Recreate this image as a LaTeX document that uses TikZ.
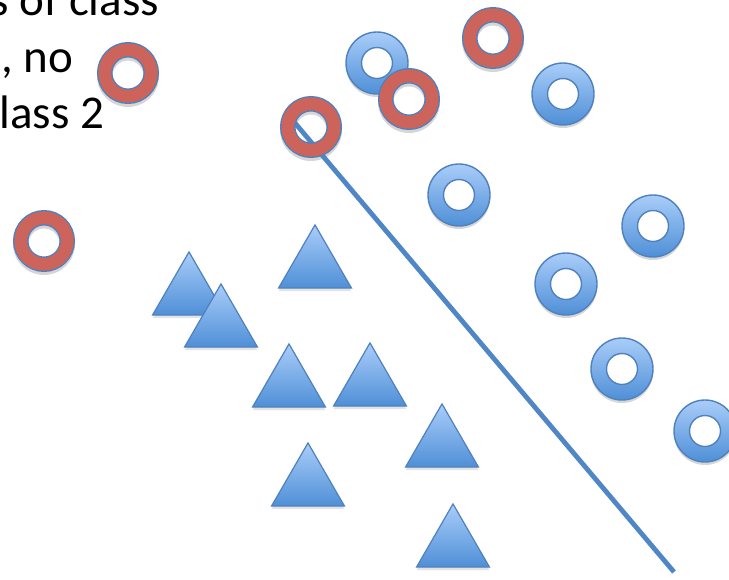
\documentclass[tikz,border=0pt]{standalone}
\usepackage{fontspec}
\setmainfont{Carlito}
\usetikzlibrary{shapes.geometric,shadows}
\definecolor{edgeblue}{HTML}{4F81BD}
\definecolor{lineblue}{HTML}{4F86C6}
\definecolor{ringred}{HTML}{CC645C}
\definecolor{topblue}{HTML}{A9CDF9}
\definecolor{botblue}{HTML}{4F8FD7}

\begin{document}
\begin{tikzpicture}[x=0.5pt,y=-0.5pt,
  every node/.style={inner sep=0pt,outer sep=0pt},
  Bnode/.style={circle,minimum size=31pt,top color=topblue,bottom color=botblue,
    draw=edgeblue,line width=0.7pt,
    path picture={\draw[edgeblue,line width=0.7pt,fill=white]
      (path picture bounding box.center) circle (7.75pt);}},
  Rnode/.style={circle,minimum size=23.25pt,draw=edgeblue,line width=0.7pt,
    double=ringred,double distance=6.35pt},
  Tnode/.style={regular polygon,regular polygon sides=3,minimum size=42.1pt,
    top color=topblue,bottom color=botblue,draw=edgeblue,line width=0.6pt,
    drop shadow={opacity=.22,shadow xshift=0pt,shadow yshift=-1.5pt}},
  txt/.style={font=\fontsize{23.5pt}{28pt}\selectfont,anchor=base east},
  sepline/.style={lineblue,line width=2.4pt}
]
\useasboundingbox (0,0) rectangle (729,579);
\clip (0,0) rectangle (729,579);

% soft shadows of the rings
\foreach \x/\y in {377/63,563/94,459/195,653/226,566/284,622/369,705/431,
                   128/73,44/241,311/127,409/99,493/38}
  \fill[black,opacity=.16,even odd rule] (\x,\y+3) circle (15.5pt) (\x,\y+3) circle (7.75pt);

% the separating line
\coordinate (S0) at (295,123);
\coordinate (S1) at (674,572);
\draw[sepline] (S0) -- (S1);

% the triangles
\foreach \x/\y [count=\i] in {189/294,221/326,315/267,289/386,370/385,442/446,308/485,453/546}
  \node[Tnode] (T\i) at (\x,\y) {};

% the blue rings
\foreach \x/\y [count=\i] in {377/63,563/94,459/195,653/226,566/284,622/369,705/431}
  \node[Bnode] (B\i) at (\x,\y) {};

% the red rings
\foreach \x/\y [count=\i] in {128/73,44/241,311/127,409/99,493/38}
  \node[Rnode] (R\i) at (\x,\y) {};

% text
\node[txt] (txt1) at (159,15) {s of class};
\node[txt] (txt2) at (73,72) {, no};
\node[txt] (txt3) at (104,128) {lass 2};

\end{tikzpicture}
\end{document}
